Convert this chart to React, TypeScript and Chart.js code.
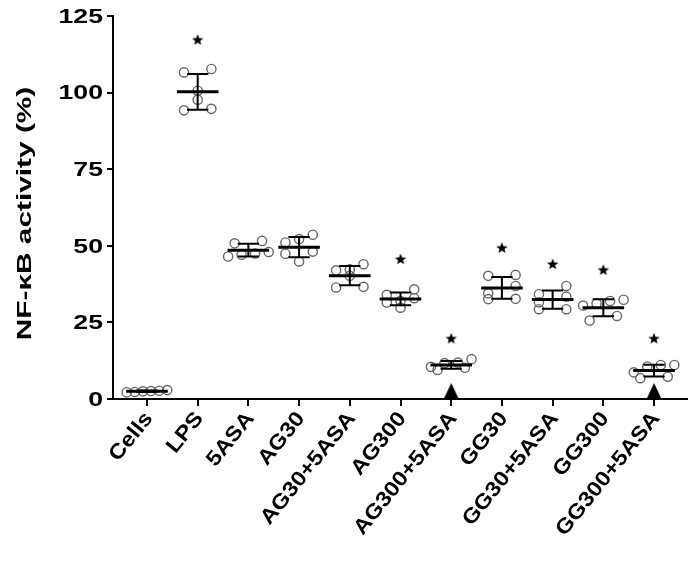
import React, { useEffect, useRef } from 'react';
import { Chart, registerables } from 'chart.js';

Chart.register(...registerables);

// ---------- data ----------
const categories = ['Cells', 'LPS', '5ASA', 'AG30', 'AG30+5ASA', 'AG300', 'AG300+5ASA', 'GG30', 'GG30+5ASA', 'GG300', 'GG300+5ASA'];

const cellsValues = [2.2, 2.6, 2.9, 2.5, 2.3, 2.7];
const lpsValues = [106.6, 107.7, 100.6, 97.7, 94.2, 94.7];
const asaValues = [50.8, 51.6, 46.5, 47.1, 48.0, 47.5];
const ag30Values = [52.2, 53.6, 51.1, 48.1, 47.4, 44.9];
const ag30AsaValues = [42.0, 42.3, 44.0, 40.2, 36.6, 36.4];
const ag300Values = [32.9, 34.0, 35.8, 32.0, 29.8, 31.5];
const ag300AsaValues = [10.2, 11.9, 11.7, 13.0, 9.5, 10.5];
const gg30Values = [40.2, 40.5, 36.9, 34.5, 32.6, 32.7];
const gg30AsaValues = [34.2, 36.9, 33.4, 29.3, 29.3, 31.6];
const gg300Values = [32.0, 31.2, 32.4, 27.1, 25.6, 30.5];
const gg300AsaValues = [10.6, 11.1, 11.1, 8.7, 6.8, 7.3];

const groupValues = [cellsValues, lpsValues, asaValues, ag30Values, ag30AsaValues, ag300Values, ag300AsaValues, gg30Values, gg30AsaValues, gg300Values, gg300AsaValues];

// significance star heights (null = no star)
const starLevels = [null, 117.3, null, null, null, 45.7, 19.8, 49.4, 44.1, 42.2, 19.8];
// triangle markers on the x axis
const triangleFlags = [false, false, false, false, false, false, true, false, false, false, true];

const yTicks = [0, 25, 50, 75, 100, 125];
const yTitle = 'NF-κB activity (%)';

// ---------- helpers ----------
const SPREAD_STEP = 0.27;
const MAX_HALF_SPREAD = 0.4;
const COLLIDE_Y = 2.8;
const MEAN_HALF = 0.41;
const CAP_HALF = 0.21;
const FONT_FAMILY = '"Liberation Sans", Arial, sans-serif';
const WIDE_Y = 1.27;
const WIDE_X = 1.12;
const LABEL_ANGLE = (51 * Math.PI) / 180;

function mean(a: number[]) {
  return a.reduce((s, v) => s + v, 0) / a.length;
}
function sd(a: number[]) {
  const m = mean(a);
  return Math.sqrt(a.reduce((s, v) => s + (v - m) * (v - m), 0) / (a.length - 1));
}

// scatter-dot-plot spreading: overlapping values share a row and are spread sideways
function swarm(values: number[], center: number) {
  const sorted = [...values].sort((a, b) => b - a);
  const rows: number[][] = [];
  for (const v of sorted) {
    const row = rows[rows.length - 1];
    if (row && row[0] - v < COLLIDE_Y) row.push(v);
    else rows.push([v]);
  }
  const out: { x: number; y: number }[] = [];
  for (const row of rows) {
    const asc = [...row].sort((a, b) => a - b);
    const n = asc.length;
    if (n === 1) {
      out.push({ x: center, y: asc[0] });
    } else if (n === 2) {
      out.push({ x: center - SPREAD_STEP, y: asc[0] });
      out.push({ x: center + SPREAD_STEP, y: asc[1] });
    } else {
      const step = Math.min(SPREAD_STEP, (2 * MAX_HALF_SPREAD) / (n - 1));
      asc.forEach((v, k) => out.push({ x: center + (k - (n - 1) / 2) * step, y: v }));
    }
  }
  return out;
}

function makeStar() {
  const c = document.createElement('canvas');
  c.width = 14;
  c.height = 14;
  const ctx = c.getContext('2d')!;
  ctx.fillStyle = '#000';
  ctx.beginPath();
  const R = 6.0, r = 2.6, cx = 7, cy = 7.5;
  for (let i = 0; i < 10; i++) {
    const rad = i % 2 === 0 ? R : r;
    const a = -Math.PI / 2 + (i * Math.PI) / 5;
    const px = cx + rad * Math.cos(a);
    const py = cy + rad * Math.sin(a);
    if (i === 0) ctx.moveTo(px, py);
    else ctx.lineTo(px, py);
  }
  ctx.closePath();
  ctx.fill();
  return c;
}

function makeTriangle() {
  const c = document.createElement('canvas');
  c.width = 16;
  c.height = 34;
  const ctx = c.getContext('2d')!;
  ctx.fillStyle = '#000';
  ctx.beginPath();
  ctx.moveTo(8, 1);
  ctx.lineTo(15.5, 17);
  ctx.lineTo(0.5, 17);
  ctx.closePath();
  ctx.fill();
  return c;
}

// axis texts drawn with the figure's wide lettering
const textPlugin = {
  id: 'wideText',
  afterDraw(chart: any) {
    const ctx = chart.ctx as CanvasRenderingContext2D;
    const ys = chart.scales.y;
    const xs = chart.scales.x;
    ctx.save();
    ctx.fillStyle = '#000';
    ctx.font = `bold 21px ${FONT_FAMILY}`;

    // y tick labels
    ctx.textAlign = 'right';
    ctx.textBaseline = 'middle';
    yTicks.forEach((v) => {
      const y = ys.getPixelForValue(v);
      ctx.save();
      ctx.translate(ys.right - 10, y + 1);
      ctx.scale(WIDE_Y, 1);
      ctx.fillText(String(v), 0, 0);
      ctx.restore();
    });

    // x category labels
    categories.forEach((label, i) => {
      const x = xs.getPixelForValue(i);
      ctx.save();
      ctx.translate(x + 2, xs.top + 16);
      ctx.rotate(-LABEL_ANGLE);
      ctx.scale(WIDE_X, 1);
      ctx.fillText(label, 0, 0);
      ctx.restore();
    });

    // y title
    ctx.textAlign = 'center';
    ctx.save();
    ctx.translate(25, (ys.top + ys.bottom) / 2 + 6);
    ctx.rotate(-Math.PI / 2);
    ctx.scale(1.42, 1);
    ctx.fillText(yTitle, 0, 0);
    ctx.restore();
    ctx.restore();
  },
};

export default function App() {
  const ref = useRef<HTMLCanvasElement>(null);

  useEffect(() => {
    if (!ref.current) return;

    const pointData: { x: number; y: number }[] = [];
    const meanData: any[] = [];
    const errData: any[] = [];
    groupValues.forEach((vals, i) => {
      pointData.push(...swarm(vals, i));
      const m = mean(vals);
      const s = sd(vals);
      meanData.push({ x: i - MEAN_HALF, y: m }, { x: i + MEAN_HALF, y: m }, { x: i, y: null });
      errData.push(
        { x: i, y: m - s }, { x: i, y: m + s }, { x: i, y: null },
        { x: i - CAP_HALF, y: m + s }, { x: i + CAP_HALF, y: m + s }, { x: i, y: null },
        { x: i - CAP_HALF, y: m - s }, { x: i + CAP_HALF, y: m - s }, { x: i, y: null },
      );
    });
    const starData = starLevels
      .map((v, i) => (v == null ? null : { x: i, y: v }))
      .filter((d) => d !== null);
    const triData = triangleFlags
      .map((f, i) => (f ? { x: i, y: 0 } : null))
      .filter((d) => d !== null);

    const chart = new Chart(ref.current, {
      type: 'scatter',
      plugins: [textPlugin],
      data: {
        datasets: [
          {
            label: 'mean',
            data: meanData,
            showLine: true,
            spanGaps: false,
            borderColor: '#000',
            borderWidth: 3,
            pointRadius: 0,
            borderCapStyle: 'butt',
            order: 0,
          } as any,
          {
            label: 'sd',
            data: errData,
            showLine: true,
            spanGaps: false,
            borderColor: '#000',
            borderWidth: 2,
            pointRadius: 0,
            borderCapStyle: 'butt',
            order: 1,
          } as any,
          {
            label: 'points',
            data: pointData,
            pointStyle: 'circle',
            pointRadius: 4.6,
            pointBorderWidth: 1.4,
            pointBorderColor: '#666',
            pointBackgroundColor: 'rgba(255,255,255,0)',
            order: 2,
          } as any,
          {
            label: 'stars',
            data: starData,
            pointStyle: makeStar(),
            order: 3,
          } as any,
          {
            label: 'triangles',
            data: triData,
            pointStyle: makeTriangle(),
            clip: false,
            order: 3,
          } as any,
        ],
      },
      options: {
        responsive: false,
        animation: false,
        events: [],
        layout: { padding: { top: 16, right: 5, left: 0, bottom: 0 } },
        plugins: { legend: { display: false }, tooltip: { enabled: false } },
        scales: {
          x: {
            type: 'linear',
            min: -0.67,
            max: 10.65,
            afterBuildTicks: (scale: any) => {
              scale.ticks = categories.map((_, i) => ({ value: i }));
            },
            afterFit: (scale: any) => {
              scale.height = 163;
            },
            ticks: { display: false },
            grid: { drawOnChartArea: false, drawTicks: true, tickLength: 7, color: '#000', lineWidth: 2 },
            border: { display: true, color: '#000', width: 2 },
          },
          y: {
            type: 'linear',
            min: 0,
            max: 125,
            afterBuildTicks: (scale: any) => {
              scale.ticks = yTicks.map((v) => ({ value: v }));
            },
            afterFit: (scale: any) => {
              scale.width = 113;
            },
            ticks: { display: false },
            grid: { drawOnChartArea: false, drawTicks: true, tickLength: 6, color: '#000', lineWidth: 2 },
            border: { display: true, color: '#000', width: 2 },
          },
        },
      },
    });

    return () => chart.destroy();
  }, []);

  return (
    <div style={{ position: 'absolute', left: 0, top: 0, width: 693, height: 562, background: '#fff' }}>
      <canvas ref={ref} width={693} height={562} style={{ display: 'block' }} />
    </div>
  );
}
